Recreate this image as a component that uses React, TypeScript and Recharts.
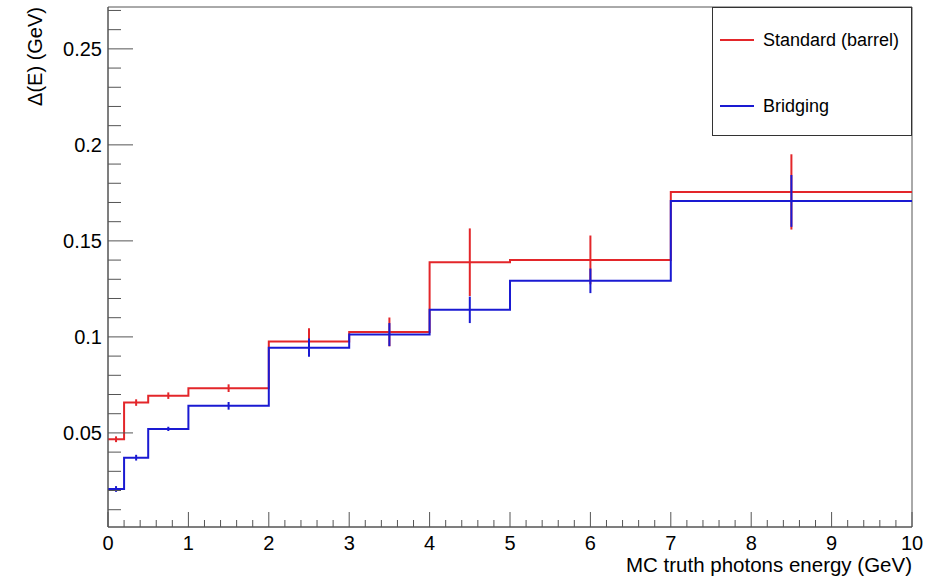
import { ComposedChart, Line, Scatter, ErrorBar, XAxis, YAxis, ReferenceArea, Legend } from "recharts";

// bin edges and centres (GeV)
const binEdges = [0, 0.2, 0.5, 1, 2, 3, 4, 5, 7, 10];
const binCenters = [0.1, 0.35, 0.75, 1.5, 2.5, 3.5, 4.5, 6, 8.5];

// Delta(E) per bin
const standardVals = [0.0467, 0.0658, 0.0694, 0.0733, 0.0976, 0.1026, 0.1389, 0.1401, 0.1755];
const standardErrs = [0.0015, 0.0017, 0.0017, 0.002, 0.0069, 0.0075, 0.0176, 0.0127, 0.0196];
const bridgingVals = [0.0208, 0.0371, 0.0521, 0.0641, 0.0944, 0.1012, 0.1141, 0.1292, 0.1708];
const bridgingErrs = [0.0015, 0.0015, 0.0011, 0.002, 0.0047, 0.006, 0.0069, 0.0064, 0.0135];

const xTicks = Array.from({ length: 51 }, (_, i) => Math.round(i * 2) / 10);
const yTicks = Array.from({ length: 27 }, (_, i) => Math.round((i + 1)) / 100);

const Y_MIN = 0.001;
const Y_MAX = 0.2718;

const RED = "#e3262a";
const BLUE = "#1a1ad2";
const AXIS = "#555";
const FONT = "'Liberation Sans', Arial, Helvetica, sans-serif";

// histogram outline for stepAfter: one point per left edge plus the last edge
const toSteps = (vals: number[]) =>
  binEdges.map((e, i) => ({ x: e, y: vals[Math.min(i, vals.length - 1)] }));

const toPoints = (vals: number[], errs: number[]) =>
  binCenters.map((c, i) => ({ x: c, y: vals[i], e: errs[i] }));

const standardSteps = toSteps(standardVals);
const bridgingSteps = toSteps(bridgingVals);
const standardPts = toPoints(standardVals, standardErrs);
const bridgingPts = toPoints(bridgingVals, bridgingErrs);

const XTick = (props: any) => {
  const { x, y, payload } = props;
  const v = payload.value;
  const major = Math.abs(v - Math.round(v)) < 1e-6;
  return (
    <g>
      <line x1={x} x2={x} y1={y} y2={y - (major ? 15 : 7)} stroke={AXIS} />
      {major && (
        <text x={x} y={y + 23} textAnchor="middle" fontSize={20} fontFamily={FONT} fill="#000">
          {Math.round(v)}
        </text>
      )}
    </g>
  );
};

const YTick = (props: any) => {
  const { x, y, payload } = props;
  const v = payload.value;
  const major = Math.abs(v * 20 - Math.round(v * 20)) < 1e-6;
  return (
    <g>
      <line x1={x} x2={x + (major ? 25 : 13)} y1={y} y2={y} stroke={AXIS} />
      {major && (
        <text x={x - 6} y={y + 7} textAnchor="end" fontSize={20} fontFamily={FONT} fill="#000">
          {String(Math.round(v * 100) / 100)}
        </text>
      )}
    </g>
  );
};

const YTitle = () => (
  <text
    transform="translate(42, 7) rotate(-90)"
    textAnchor="end"
    fontSize={20}
    fontFamily={FONT}
    fill="#000"
  >
    Δ(E) (GeV)
  </text>
);

const XTitle = () => (
  <text x={912} y={572} textAnchor="end" fontSize={20.5} fontFamily={FONT} fill="#000">
    MC truth photons energy (GeV)
  </text>
);

const LegendBox = () => (
  <div
    style={{
      width: 200,
      height: 129,
      border: "1px solid #333",
      boxSizing: "border-box",
      background: "#fff",
      position: "relative",
      fontFamily: FONT,
      fontSize: 18,
    }}
  >
    {[
      { name: "Standard (barrel)", color: RED, top: 32 },
      { name: "Bridging", color: BLUE, top: 98 },
    ].map((it) => (
      <div key={it.name} style={{ position: "absolute", left: 0, top: it.top - 12, height: 24, width: 200 }}>
        <div style={{ position: "absolute", left: 7, top: 11, width: 34, height: 2, background: it.color }} />
        <span style={{ position: "absolute", left: 50, top: 1, lineHeight: "22px", color: "#000", whiteSpace: "nowrap" }}>
          {it.name}
        </span>
      </div>
    ))}
  </div>
);

export default function App() {
  return (
    <div style={{ position: "absolute", left: 0, top: 0, width: 943, height: 576, background: "#fff" }}>
      <ComposedChart width={943} height={576} margin={{ top: 7, right: 31, bottom: 0, left: 8 }}>
        <XAxis
          dataKey="x"
          type="number"
          domain={[0, 10]}
          ticks={xTicks}
          interval={0}
          height={49}
          tickSize={0}
          tickMargin={0}
          tickLine={false}
          axisLine={{ stroke: AXIS }}
          tick={<XTick />}
          allowDataOverflow
          label={<XTitle />}
        />
        <YAxis
          type="number"
          domain={[Y_MIN, Y_MAX]}
          ticks={yTicks}
          interval={0}
          width={100}
          tickSize={0}
          tickMargin={0}
          tickLine={false}
          axisLine={{ stroke: AXIS }}
          tick={<YTick />}
          allowDataOverflow
          label={<YTitle />}
        />
        <ReferenceArea x1={0} x2={10} y1={Y_MIN} y2={Y_MAX} fill="none" stroke={AXIS} strokeWidth={1} ifOverflow="visible" />
        <Line
          data={standardSteps}
          dataKey="y"
          type="stepAfter"
          stroke={RED}
          strokeWidth={2}
          dot={false}
          activeDot={false}
          isAnimationActive={false}
          name="Standard (barrel)"
        />
        <Scatter data={standardPts} dataKey="y" shape={() => <g />} isAnimationActive={false} legendType="none">
          <ErrorBar dataKey="e" direction="y" width={0} stroke={RED} strokeWidth={2} isAnimationActive={false} />
        </Scatter>
        <Line
          data={bridgingSteps}
          dataKey="y"
          type="stepAfter"
          stroke={BLUE}
          strokeWidth={2}
          dot={false}
          activeDot={false}
          isAnimationActive={false}
          name="Bridging"
        />
        <Scatter data={bridgingPts} dataKey="y" shape={() => <g />} isAnimationActive={false} legendType="none">
          <ErrorBar dataKey="e" direction="y" width={0} stroke={BLUE} strokeWidth={2} isAnimationActive={false} />
        </Scatter>
        <Legend
          layout="horizontal"
          verticalAlign="middle"
          align="center"
          content={() => <LegendBox />}
          wrapperStyle={{ left: 712, top: 7, width: 200, height: 129 }}
        />
      </ComposedChart>
    </div>
  );
}
